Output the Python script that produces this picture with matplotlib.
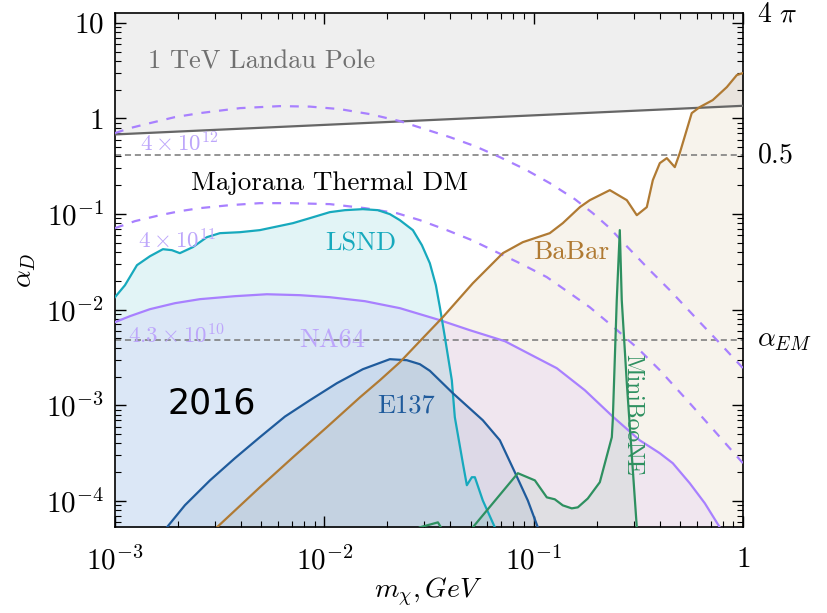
import matplotlib
matplotlib.use("Agg")
import matplotlib.pyplot as plt
import matplotlib.transforms as mtransforms
import numpy as np

plt.rcParams["font.family"] = "serif"
plt.rcParams["font.serif"] = ["cmr10", "DejaVu Serif"]
plt.rcParams["mathtext.fontset"] = "cm"
plt.rcParams["axes.formatter.use_mathtext"] = True

y_min, y_max = 5.3e-5, 4 * np.pi

# 1 TeV Landau pole boundary
landau_x = [1e-3, 1.0]
landau_y = [0.68, 1.355]

# thermal relic contours (Majorana DM)
th12_x = [0.001, 0.001179, 0.001469, 0.001934, 0.002545, 0.003952, 0.006138, 0.008535,
          0.01187, 0.01651, 0.02296, 0.03022, 0.03979, 0.05238, 0.06896, 0.09078,
          0.1195, 0.1573, 0.1917, 0.2312, 0.2725, 0.3587, 0.4471, 0.6218, 0.7748, 1.0]
th12_y = [0.702, 0.7917, 0.8929, 1.032, 1.136, 1.281, 1.345, 1.329,
          1.251, 1.109, 0.9372, 0.7729, 0.6373, 0.5132, 0.3937, 0.2949,
          0.2104, 0.1432, 0.1022, 0.07119, 0.04843, 0.02588, 0.0160, 0.0074, 0.004463,
          0.002444]
th11_x = [0.001, 0.001246, 0.00164, 0.002043, 0.002545, 0.00354, 0.004925, 0.006852,
          0.01063, 0.01563, 0.02222, 0.02861, 0.0385, 0.05069, 0.06672, 0.0878,
          0.1156, 0.1489, 0.1855, 0.2442, 0.3211, 0.4006, 0.5569, 0.733, 1.0]
th11_y = [0.0712, 0.0843, 0.0973, 0.1072, 0.1153, 0.1239, 0.1300, 0.1300,
          0.1270, 0.1153, 0.1021, 0.08633, 0.0679, 0.05333, 0.0399, 0.02991,
          0.0219, 0.01488, 0.0106, 0.006412, 0.00377, 0.00233, 0.001052, 0.0005358,
          0.000248]
na64_x = [0.001, 0.001179, 0.001469, 0.001934, 0.002545, 0.003741, 0.005318, 0.007648,
          0.01063, 0.01563, 0.02296, 0.03566, 0.04958, 0.07286, 0.09592, 0.129,
          0.1756, 0.2388, 0.3211, 0.4006, 0.4621, 0.5569, 0.6572, 0.7748]
na64_y = [0.0074, 0.008551, 0.01012, 0.01169, 0.01288, 0.01384, 0.0145, 0.01418,
          0.0135, 0.01227, 0.01037, 0.00777, 0.0061, 0.004684, 0.003423, 0.002444,
          0.001438, 0.000762, 0.000431, 0.0003155, 0.000248, 0.0001532, 0.0000946, y_min]

# LSND
lsnd_x = [0.001, 0.001116, 0.001274, 0.001469, 0.001695, 0.001871, 0.002042, 0.002356,
          0.002749, 0.003172, 0.003952, 0.004922, 0.007082, 0.008535, 0.01063, 0.01254,
          0.01528, 0.01803, 0.02057, 0.02296, 0.02649, 0.02925, 0.03193, 0.03411,
          0.03566, 0.03767, 0.04066, 0.04203, 0.04591, 0.04797, 0.05067, 0.0524,
          0.05718, 0.06526]
lsnd_y = [0.0135, 0.0180, 0.0292, 0.0362, 0.0429, 0.0419, 0.0390, 0.0451,
          0.0573, 0.0631, 0.0646, 0.0679, 0.0803, 0.0906, 0.1047, 0.1098,
          0.1125, 0.1098, 0.0998, 0.0863, 0.0679, 0.0473, 0.0306, 0.01805,
          0.0106, 0.00517, 0.00183, 0.00075, 0.000248, 0.000146, 0.000177, 0.000177,
          0.000101, y_min]

# E137
e137_x = [0.001771, 0.002159, 0.002843, 0.003741, 0.004922, 0.006484, 0.008535, 0.01148,
          0.01528, 0.02057, 0.02479, 0.02861, 0.03193, 0.04111, 0.05718, 0.06896,
          0.08131, 0.09382, 0.1047]
e137_y = [y_min, 0.0000902, 0.000164, 0.0002797, 0.000464, 0.000762, 0.00113, 0.001702,
          0.002385, 0.003036, 0.002963, 0.002691, 0.002296, 0.00134, 0.000698, 0.000431,
          0.0001997, 0.000101, y_min]

# BaBar
babar_x = [0.00307, 0.004922, 0.007082, 0.01028, 0.01479, 0.01844, 0.02296, 0.02861,
           0.03683, 0.05123, 0.07128, 0.08876, 0.1194, 0.1378, 0.1663, 0.1855, 0.2312,
           0.2787, 0.311, 0.3472, 0.371, 0.4006, 0.4327, 0.4724, 0.4989, 0.5691, 0.6215,
           0.717, 0.8372, 0.9342, 1.0]
babar_y = [y_min, 0.000139, 0.000286, 0.00059, 0.00121, 0.00183, 0.00282, 0.004684,
           0.00835, 0.0189, 0.039, 0.0508, 0.0631, 0.0803, 0.1181, 0.1397, 0.1778,
           0.1397, 0.0973, 0.1181, 0.2263, 0.3407, 0.3845, 0.3095, 0.4337, 1.136, 1.313,
           1.554, 2.125, 2.838, 2.978]

# MiniBooNE
mb_x = [0.05123, 0.08405, 0.1014, 0.1156, 0.1262, 0.1378, 0.1521, 0.1626, 0.1814,
        0.2071, 0.2363, 0.2388, 0.2495, 0.258, 0.2636, 0.2787, 0.311]
mb_y = [y_min, 0.000195, 0.000164, 0.000109, 0.000104, 0.0000899, 0.0000836, 0.0000857,
        0.000106, 0.000157, 0.000464, 0.000698, 0.0126, 0.0679, 0.0126, 0.0017, y_min]
mb2_x = [0.02862, 0.0349, 0.03605]
mb2_y = [y_min, 0.0000597, y_min]

# reference couplings on the right axis
alpha_half = 0.413
alpha_em = 0.0048

c_lsnd = "#17a9bd"
c_e137 = "#1f5b9c"
c_babar = "#b07a33"
c_purple = "#a880ff"
c_purple_txt = "#bda6fb"
c_green = "#2e9060"

fig = plt.figure(figsize=(8.27, 6.13), dpi=100)
ax = fig.add_axes([0.139, 0.1398, 0.7594, 0.8385])
ax.set_xscale("log")
ax.set_yscale("log")
ax.set_xlim(1e-3, 1)
ax.set_ylim(y_min, y_max)

# filled regions
ax.fill_between(landau_x, landau_y, y_max, color="#efefef", lw=0, zorder=0)
ax.fill_between(babar_x, babar_y, y_min, color=c_babar, alpha=0.09, lw=0, zorder=1)
ax.fill_between(na64_x, na64_y, y_min, color="#d8b4ff", alpha=0.2, lw=0, zorder=1)
ax.fill_between(lsnd_x, lsnd_y, y_min, color=c_lsnd, alpha=0.12, lw=0, zorder=1)
ax.fill_between(e137_x, e137_y, y_min, color=c_e137, alpha=0.09, lw=0, zorder=1)
ax.fill_between(mb_x, mb_y, y_min, color=c_green, alpha=0.08, lw=0, zorder=1)

# curves
ax.plot(landau_x, landau_y, color="#666666", lw=1.6, zorder=3)
ax.plot(th12_x, th12_y, color=c_purple, lw=1.6, ls=(0, (4, 4)), zorder=3)
ax.plot(th11_x, th11_y, color=c_purple, lw=1.6, ls=(0, (4, 4)), zorder=3)
ax.plot(na64_x, na64_y, color=c_purple, lw=1.6, zorder=3)
ax.plot(lsnd_x, lsnd_y, color=c_lsnd, lw=1.6, zorder=3)
ax.plot(e137_x, e137_y, color=c_e137, lw=1.6, zorder=3)
ax.plot(babar_x, babar_y, color=c_babar, lw=1.6, zorder=3)
ax.plot(mb_x, mb_y, color=c_green, lw=1.6, zorder=3)
ax.plot(mb2_x, mb2_y, color=c_green, lw=1.6, zorder=3)

ax.axhline(alpha_half, color="#777777", lw=1.1, ls=(0, (4, 2.5)), zorder=2)
ax.axhline(alpha_em, color="#777777", lw=1.1, ls=(0, (4, 2.5)), zorder=2)

# labels in the plot
ax.text(0.005, 3.88, "1 TeV Landau Pole", color="#707070", fontsize=19,
        ha="center", va="center")
ax.text(0.01063, 0.2105, "Majorana Thermal DM", color="black", fontsize=19.5,
        ha="center", va="center")
ax.text(0.001316, 0.551, r"$4\times10^{12}$", color=c_purple_txt, fontsize=16.5,
        ha="left", va="center")
ax.text(0.001288, 0.0533, r"$4\times10^{11}$", color=c_purple_txt, fontsize=16.5,
        ha="left", va="center")
ax.text(0.001154, 0.00542, r"$4.3\times10^{10}$", color=c_purple_txt, fontsize=16.5,
        ha="left", va="center")
ax.text(0.01088, 0.0048, "NA64", color=c_purple_txt, fontsize=19, ha="center", va="center")
ax.text(0.01496, 0.0496, "LSND", color=c_lsnd, fontsize=19, ha="center", va="center")
ax.text(0.1507, 0.0399, "BaBar", color=c_babar, fontsize=19.5, ha="center", va="center")
ax.text(0.02457, 0.001, "E137", color=c_e137, fontsize=19, ha="center", va="center")
ax.text(0.2944, 0.000787, "MiniBooNE", color=c_green, fontsize=17, rotation=-90,
        ha="center", va="center")
ax.text(0.0029, 0.00105, "2016", family="DejaVu Sans", fontsize=25,
        ha="center", va="center")

# right-hand reference labels
trans = mtransforms.blended_transform_factory(ax.transAxes, ax.transData)
ax.text(1.022, 12.3, r"$4\ \pi$", transform=trans, fontsize=20, ha="left", va="center")
ax.text(1.022, alpha_half, r"$0.5$", transform=trans, fontsize=20, ha="left", va="center")
ax.text(1.022, alpha_em, r"$\alpha_{EM}$", transform=trans, fontsize=20, ha="left", va="center")

ax.set_xticks([1e-3, 1e-2, 1e-1, 1])
ax.set_xticklabels([r"$10^{-3}$", r"$10^{-2}$", r"$10^{-1}$", r"$1$"])
ax.set_yticks([1e-4, 1e-3, 1e-2, 1e-1, 1, 10])
ax.set_yticklabels([r"$10^{-4}$", r"$10^{-3}$", r"$10^{-2}$", r"$10^{-1}$", r"$1$", r"$10$"])
ax.tick_params(which="both", direction="in", top=True, right=True, labelsize=21)
ax.tick_params(which="major", length=8, width=1)
ax.tick_params(which="minor", length=4, width=0.8)
ax.tick_params(axis="x", pad=14)
ax.tick_params(axis="y", pad=8)
for s in ax.spines.values():
    s.set_linewidth(1.2)

ax.set_xlabel(r"$m_\chi, GeV$", fontsize=20, labelpad=0)
ax.set_ylabel(r"$\alpha_D$", fontsize=20, labelpad=6)

fig.savefig("out.png", dpi=100)
